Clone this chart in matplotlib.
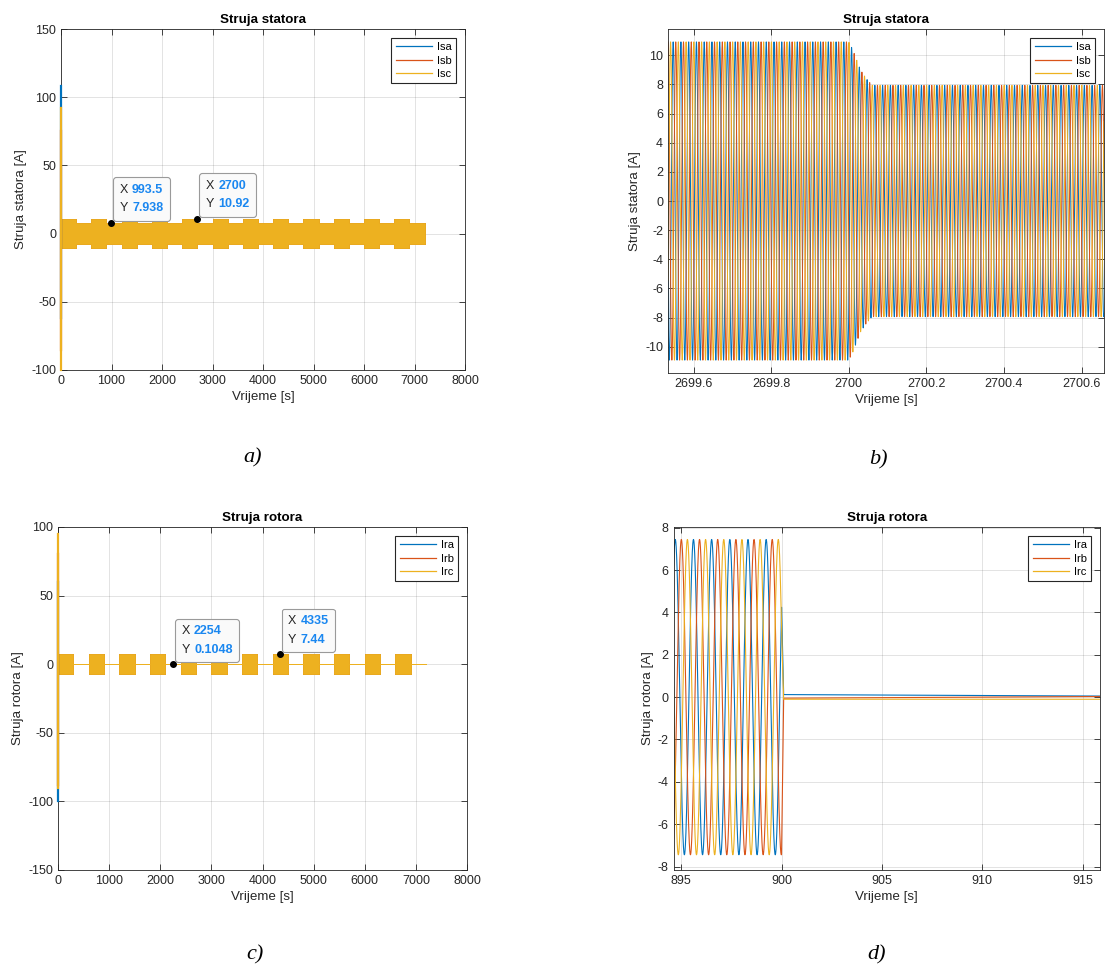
import numpy as np
import matplotlib.pyplot as plt
from matplotlib.offsetbox import TextArea, HPacker, AnnotationBbox

plt.rcParams['font.family'] = ['Liberation Sans', 'DejaVu Sans']
plt.rcParams['axes.unicode_minus'] = False

# MATLAB default line colours
C_A = '#0072BD'
C_B = '#D95319'
C_C = '#EDB120'

# ---- a) and c): whole run, load switched every 300 s
seg_edges = [0, 300, 600, 900, 1200, 1500, 1800, 2100, 2400, 2700, 3000, 3300,
             3600, 3900, 4200, 4500, 4800, 5100, 5400, 5700, 6000, 6300, 6600,
             6900, 7200]
stator_amp = [10.92, 7.938, 10.92, 7.938, 10.92, 7.938, 10.92, 7.938, 10.92, 7.938,
              10.92, 7.938, 10.92, 7.938, 10.92, 7.938, 10.92, 7.938, 10.92, 7.938,
              10.92, 7.938, 10.92, 7.938]
rotor_amp = [7.44, 0.1048, 7.44, 0.1048, 7.44, 0.1048, 7.44, 0.1048, 7.44, 0.1048,
             7.44, 0.1048, 7.44, 0.1048, 7.44, 0.1048, 7.44, 0.1048, 7.44, 0.1048,
             7.44, 0.1048, 7.44, 0.1048]

# start-up inrush peaks (min, max) per phase
stator_inrush_lo = [-62, -85, -100]
stator_inrush_hi = [108, 75, 92]
rotor_inrush_lo = [-100, -88, -90]
rotor_inrush_hi = [60, 80, 95]

tips_a = [(993.5, 7.938), (2700, 10.92)]
tips_c = [(2254, 0.1048), (4335, 7.44)]

# ---- b): stator current around the load step at 2700 s
f_stator = 50.0
b_t0 = 2699.5
b_env_t = [2699.5, 2700.0, 2700.01, 2700.03, 2700.045, 2700.06, 2700.7]
b_env_amp = [10.92, 10.92, 10.4, 9.0, 8.4, 7.94, 7.94]
b_phase_a = -0.72

# ---- d): rotor current around the switch-off at 900 s
f_rotor = 1.104
d_crest_t = 894.704
d_amp = 7.44
d_trip = 900.0
d_after_t = [900.1, 916.0]
ira_after = [0.12, 0.05]
irb_after = [-0.05, 0.03]
irc_after = [-0.10, -0.10]

W, H = 1108, 968
fig = plt.figure(figsize=(W / 100, H / 100), dpi=100)


def ax_at(l, t, r, b):
    return fig.add_axes([l / W, 1 - b / H, (r - l) / W, (b - t) / H])


def matlab_axes(ax, title, ylabel):
    ax.grid(True, color='#262626', alpha=0.15, lw=0.6)
    ax.set_axisbelow(True)
    ax.tick_params(direction='in', top=True, right=True, labelsize=9,
                   colors='#262626', length=4, width=0.6)
    for s in ax.spines.values():
        s.set_color('#262626')
        s.set_linewidth(0.6)
    ax.set_title(title, fontsize=9.6, fontweight='bold', pad=4)
    ax.set_xlabel('Vrijeme [s]', fontsize=9.6, color='#262626', labelpad=3)
    ax.set_ylabel(ylabel, fontsize=9.6, color='#262626', labelpad=3)


def legend(ax):
    leg = ax.legend(loc='upper right', fontsize=8, fancybox=False, framealpha=1,
                    edgecolor='#262626', handlelength=3.3, labelspacing=0.3,
                    borderaxespad=0.8, borderpad=0.4, handletextpad=0.4)
    leg.get_frame().set_linewidth(0.8)
    for h in leg.get_lines():
        h.set_linewidth(0.9)


def datatip(ax, x, y):
    ax.plot(x, y, 'o', color='k', ms=4, zorder=6, clip_on=False)
    left = TextArea("X\nY", textprops=dict(color='#262626', fontsize=9, linespacing=1.75))
    right = TextArea(f"{x:g}\n{y:g}", textprops=dict(color='#1a87f0', fontsize=9,
                                                      fontweight='bold', linespacing=1.75))
    box = HPacker(children=[left, right], align='top', pad=0, sep=3)
    ab = AnnotationBbox(box, (x, y), xybox=(6, 6), boxcoords='offset points',
                        box_alignment=(0, 0), pad=0.45,
                        bboxprops=dict(boxstyle='round,pad=0.45,rounding_size=0.2',
                                       fc='#fafafa', ec='#9a9a9a', lw=0.8),
                        zorder=7)
    ax.add_artist(ab)


def envelope_panel(ax, amp, lo, hi, names):
    edges = np.array(seg_edges, dtype=float)
    a = np.append(amp, amp[-1])
    for col, name, l, h in zip([C_A, C_B, C_C], names, lo, hi):
        ax.plot([0, 0], [l, h], color=col, lw=1.6, label=name, clip_on=False, zorder=3)
        ax.fill_between(edges, -a, a, step='post', color=col, lw=0.6, edgecolor=col)
    ax.set_xlim(0, 8000)
    ax.set_xticks(range(0, 8001, 1000))


# a)
ax = ax_at(61, 29, 465, 370)
envelope_panel(ax, stator_amp, stator_inrush_lo, stator_inrush_hi, ['Isa', 'Isb', 'Isc'])
ax.set_ylim(-100, 150)
ax.set_yticks(range(-100, 151, 50))
matlab_axes(ax, 'Struja statora', 'Struja statora [A]')
legend(ax)
for x, y in tips_a:
    datatip(ax, x, y)

# c)
ax = ax_at(58, 527, 467, 870)
envelope_panel(ax, rotor_amp, rotor_inrush_lo, rotor_inrush_hi, ['Ira', 'Irb', 'Irc'])
ax.set_ylim(-150, 100)
ax.set_yticks(range(-150, 101, 50))
matlab_axes(ax, 'Struja rotora', 'Struja rotora [A]')
legend(ax)
for x, y in tips_c:
    datatip(ax, x, y)

# b)
ax = ax_at(668, 29, 1104, 373)
t = np.linspace(b_env_t[0], b_env_t[-1], 30001)
env = np.interp(t, b_env_t, b_env_amp)
w = 2 * np.pi * f_stator * (t - b_t0) + b_phase_a
for k, (col, name) in enumerate(zip([C_A, C_B, C_C], ['Isa', 'Isb', 'Isc'])):
    ax.plot(t, env * np.sin(w - k * 2 * np.pi / 3), color=col, lw=0.7, label=name)
ax.set_xlim(2699.534, 2700.658)
ax.set_ylim(-11.8, 11.8)
bt = [2699.6, 2699.8, 2700.0, 2700.2, 2700.4, 2700.6]
ax.set_xticks(bt, ['2699.6', '2699.8', '2700', '2700.2', '2700.4', '2700.6'])
ax.set_yticks(range(-10, 11, 2))
matlab_axes(ax, 'Struja statora', 'Struja statora [A]')
legend(ax)

# d)
ax = ax_at(673.6, 527, 1100, 870)
t = np.linspace(894.5, 916.0, 40001)
w = 2 * np.pi * f_rotor * (t - d_crest_t)
for k, (col, name, after) in enumerate(zip([C_A, C_B, C_C], ['Ira', 'Irb', 'Irc'],
                                           [ira_after, irb_after, irc_after])):
    wave = d_amp * np.cos(w - k * 2 * np.pi / 3)
    at_trip = d_amp * np.cos(2 * np.pi * f_rotor * (d_trip - d_crest_t) - k * 2 * np.pi / 3)
    y = np.where(t <= d_trip, wave,
                 np.interp(t, [d_trip] + d_after_t, [at_trip] + after))
    ax.plot(t, y, color=col, lw=0.8, label=name)
ax.set_xlim(894.62, 915.87)
ax.set_ylim(-8.16, 8.03)
ax.set_xticks(range(895, 916, 5))
ax.set_yticks(range(-8, 9, 2))
matlab_axes(ax, 'Struja rotora', 'Struja rotora [A]')
legend(ax)

# sub-figure captions
for s, (x, y) in zip(['a)', 'b)', 'c)', 'd)'],
                     [(253, 458), (878, 460), (255, 955), (877, 955)]):
    fig.text(x / W, 1 - y / H, s, family='Liberation Serif', style='italic',
             fontsize=16, ha='center', va='center')

fig.savefig('out.png', dpi=100, facecolor='white')
